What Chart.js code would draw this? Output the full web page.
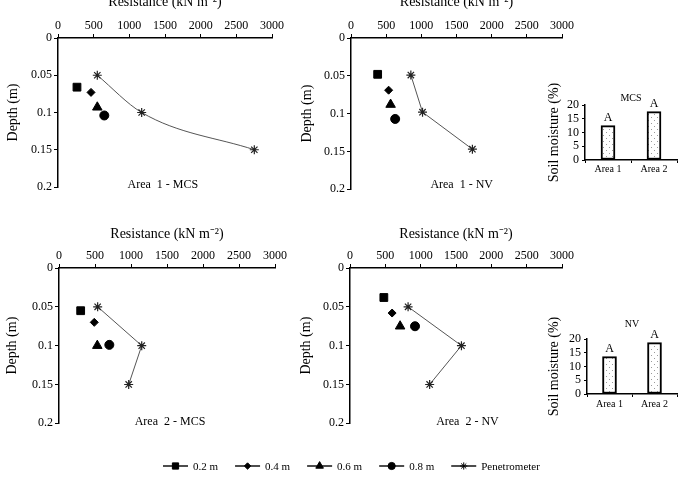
<!DOCTYPE html>
<html>
<head>
<meta charset="utf-8">
<script src="https://cdn.jsdelivr.net/npm/chart.js@4.4.1/dist/chart.umd.min.js"></script>
<style>
    html, body { margin: 0; padding: 0; background: #fff; overflow: hidden; }
    #fig { position: relative; width: 687px; height: 478px; overflow: hidden; }
    #fig canvas { position: absolute; }
</style>
</head>
<body>
<div id="fig">
    <canvas id="a1mcs" width="290" height="208" style="left:0;top:-8px"></canvas>
    <canvas id="a1nv" width="285" height="208" style="left:290px;top:-8px"></canvas>
    <canvas id="a2mcs" width="290" height="215" style="left:0;top:220px"></canvas>
    <canvas id="a2nv" width="285" height="215" style="left:290px;top:220px"></canvas>
    <canvas id="moistMcs" width="157" height="110" style="left:530px;top:80px"></canvas>
    <canvas id="moistNv" width="157" height="130" style="left:530px;top:300px"></canvas>
    <canvas id="legend" width="400" height="30" style="left:150px;top:450px"></canvas>
</div>
<script>
// tick labels and categories
const resistanceTicks = ['0', '500', '1000', '1500', '2000', '2500', '3000'];
const depthTicks = ['0', '0.05', '0.1', '0.15', '0.2'];
const moistureTicks = ['0', '5', '10', '15', '20'];
const seriesNames = ['0.2 m', '0.4 m', '0.6 m', '0.8 m', 'Penetrometer'];
const areaNames = ['Area 1', 'Area 2'];
const panelNames = ['Area  1 - MCS', 'Area  1 - NV', 'Area  2 - MCS', 'Area  2 - NV'];

// sensor readings (resistance kN m-2, depth m) for 0.2/0.4/0.6/0.8 m
const a1mcsRes = [266, 463, 551, 649];
const a1mcsDepth = [0.066, 0.073, 0.093, 0.104];
const a1nvRes = [379, 535, 563, 628];
const a1nvDepth = [0.048, 0.069, 0.088, 0.107];
const a2mcsRes = [301, 490, 532, 699];
const a2mcsDepth = [0.055, 0.070, 0.100, 0.099];
const a2nvRes = [479, 596, 709, 920];
const a2nvDepth = [0.038, 0.058, 0.075, 0.075];

// penetrometer profiles
const a1mcsPenRes = [551, 1173, 2752];
const a1mcsPenDepth = [0.05, 0.1, 0.15];
const a1nvPenRes = [851, 1017, 1726];
const a1nvPenDepth = [0.049, 0.098, 0.147];
const a2mcsPenRes = [537, 1149, 968];
const a2mcsPenDepth = [0.05, 0.1, 0.15];
const a2nvPenRes = [822, 1577, 1127];
const a2nvPenDepth = [0.05, 0.1, 0.15];

// soil moisture (%)
const moistureMcs = [12.5, 17.6];
const moistureNv = [13.6, 18.7];
const moistureLetters = ['A', 'A'];

const SERIF = "'Liberation Serif', 'Times New Roman', serif";
Chart.defaults.font.family = SERIF;
Chart.defaults.color = '#000';

const markers = [
    { style: 'rect', radius: 5.5 },
    { style: 'rectRot', radius: 4 },
    { style: 'triangle', radius: 5.5 },
    { style: 'circle', radius: 4.5 },
    { style: 'star', radius: 4.5 }
];

// pick the written label that matches a tick value
function tickLabel(list) {
    return (v) => list.find((t) => Math.abs(Number(t) - v) < 1e-9) ?? '';
}

// free text placed in data units
const panelText = {
    id: 'panelText',
    afterDraw(chart, args, opts) {
        const { ctx, scales } = chart;
        ctx.save();
        ctx.fillStyle = '#000';
        ctx.textAlign = 'center';
        ctx.textBaseline = 'middle';
        (opts.items || []).forEach((it) => {
            ctx.font = `${it.size}px ${SERIF}`;
            ctx.fillText(it.text, scales.x.getPixelForValue(it.x), scales.y.getPixelForValue(it.y));
        });
        ctx.restore();
    }
};

// letters over the bars
const barLetters = {
    id: 'barLetters',
    afterDatasetsDraw(chart, args, opts) {
        const { ctx } = chart;
        ctx.save();
        ctx.fillStyle = '#000';
        ctx.textAlign = 'center';
        ctx.textBaseline = 'bottom';
        ctx.font = `12px ${SERIF}`;
        chart.getDatasetMeta(0).data.forEach((bar, i) => {
            ctx.fillText(opts.letters[i], bar.x, bar.y - 2);
        });
        ctx.restore();
    }
};

function sensorSets(res, depth) {
    return res.map((r, i) => ({
        label: seriesNames[i],
        data: [{ x: r, y: depth[i] }],
        showLine: false,
        pointStyle: markers[i].style,
        pointRadius: markers[i].radius,
        backgroundColor: '#000',
        borderColor: '#000',
        borderWidth: 1
    }));
}

function penSet(res, depth, smooth) {
    return {
        label: seriesNames[4],
        data: res.map((r, i) => ({ x: r, y: depth[i] })),
        showLine: true,
        cubicInterpolationMode: smooth ? 'monotone' : 'default',
        borderColor: '#555',
        borderWidth: 1,
        pointStyle: 'star',
        pointRadius: 4.5,
        pointBorderColor: '#222',
        pointBorderWidth: 1.2,
        backgroundColor: '#222'
    };
}

function depthChart(id, o) {
    return new Chart(document.getElementById(id), {
        type: 'scatter',
        data: { datasets: [...sensorSets(o.res, o.depth), penSet(o.penRes, o.penDepth, o.smooth)] },
        options: {
            responsive: false,
            animation: false,
            events: [],
            layout: { padding: { right: o.padRight, bottom: o.padBottom } },
            plugins: {
                legend: { display: false },
                tooltip: { enabled: false },
                panelText: { items: [{ text: o.name, x: o.nameX, y: o.nameY, size: 12 }] }
            },
            scales: {
                x: {
                    type: 'linear',
                    position: 'top',
                    min: 0,
                    max: 3000,
                    ticks: { stepSize: 500, autoSkip: false, maxRotation: 0, padding: 1, font: { size: 12 }, callback: tickLabel(resistanceTicks) },
                    grid: { drawOnChartArea: false, color: '#000', tickLength: 4 },
                    border: { color: '#000', width: 1.5 },
                    title: { display: true, text: 'Resistance (kN m⁻²)', font: { size: 14 }, padding: { top: o.titleTop, bottom: 0 } },
                    afterFit(s) { s.height = o.axisH; }
                },
                y: {
                    type: 'linear',
                    position: 'left',
                    reverse: true,
                    min: 0,
                    max: 0.2,
                    ticks: { stepSize: 0.05, autoSkip: false, padding: 2, font: { size: 12 }, callback: tickLabel(depthTicks) },
                    grid: { drawOnChartArea: false, color: '#000', tickLength: 4 },
                    border: { color: '#000', width: 1.5 },
                    title: { display: true, text: 'Depth (m)', font: { size: 14 }, padding: { top: o.yTitlePad, bottom: 0 } },
                    afterFit(s) { s.width = o.axisW; }
                }
            }
        },
        plugins: [panelText]
    });
}

function dotPattern() {
    const c = document.createElement('canvas');
    c.width = 6;
    c.height = 6;
    const g = c.getContext('2d');
    g.fillStyle = '#fff';
    g.fillRect(0, 0, 6, 6);
    g.fillStyle = '#9a9a9a';
    g.fillRect(1, 1, 1, 1);
    g.fillRect(4, 4, 1, 1);
    return g.createPattern(c, 'repeat');
}

function moistureChart(id, values, o) {
    return new Chart(document.getElementById(id), {
        type: 'bar',
        data: {
            labels: areaNames,
            datasets: [{
                data: values,
                backgroundColor: dotPattern(),
                borderColor: '#000',
                borderWidth: 2,
                borderSkipped: false,
                barThickness: 14
            }]
        },
        options: {
            responsive: false,
            animation: false,
            events: [],
            layout: { padding: { top: o.padTop, right: 10 } },
            plugins: {
                legend: { display: false },
                tooltip: { enabled: false },
                barLetters: { letters: moistureLetters },
                panelText: { items: [{ text: o.title, x: 0.5, y: o.titleY, size: 10 }] }
            },
            scales: {
                x: {
                    ticks: { padding: o.xTickPad, maxRotation: 0, font: { size: 10 } },
                    grid: { drawOnChartArea: false, offset: true, color: '#000', tickLength: 3 },
                    border: { color: '#000', width: 1.5 },
                    afterFit(s) { s.height = o.axisH; }
                },
                y: {
                    min: 0,
                    max: 20,
                    ticks: { stepSize: 5, autoSkip: false, padding: 3, font: { size: 12 }, callback: tickLabel(moistureTicks) },
                    grid: { drawOnChartArea: false, color: '#000', tickLength: 3 },
                    border: { color: '#000', width: 1.5 },
                    title: { display: true, text: 'Soil moisture (%)', font: { size: 14 }, padding: { top: 16, bottom: 0 } },
                    afterFit(s) { s.width = o.axisW; }
                }
            }
        },
        plugins: [panelText, barLetters]
    });
}

// legend drawn as line + marker + label
const legendDraw = {
    id: 'legendDraw',
    afterDraw(chart) {
        const ctx = chart.ctx;
        const y = 16;
        let x = 13;
        ctx.save();
        ctx.font = `11px ${SERIF}`;
        ctx.textBaseline = 'middle';
        chart.data.datasets.forEach((ds) => {
            ctx.strokeStyle = '#000';
            ctx.lineWidth = 1.4;
            ctx.beginPath();
            ctx.moveTo(x, y);
            ctx.lineTo(x + 25, y);
            ctx.stroke();
            ctx.fillStyle = '#000';
            ctx.lineWidth = 1;
            Chart.helpers.drawPoint(ctx, { pointStyle: ds.pointStyle, radius: ds.pointRadius * 0.8, rotation: 0, borderWidth: 1 }, x + 12.5, y);
            ctx.fillText(ds.label, x + 30, y + 1);
            x += 30 + ctx.measureText(ds.label).width + 17;
        });
        ctx.restore();
    }
};

depthChart('a1mcs', {
    res: a1mcsRes, depth: a1mcsDepth, penRes: a1mcsPenRes, penDepth: a1mcsPenDepth, smooth: true,
    name: panelNames[0], nameX: 1470, nameY: 0.197,
    axisW: 58, axisH: 46, padRight: 18, padBottom: 13, titleTop: 2, yTitlePad: 4.6
});
depthChart('a1nv', {
    res: a1nvRes, depth: a1nvDepth, penRes: a1nvPenRes, penDepth: a1nvPenDepth, smooth: false,
    name: panelNames[1], nameX: 1574, nameY: 0.194,
    axisW: 61, axisH: 46, padRight: 13, padBottom: 10.7, titleTop: 2, yTitlePad: 8.6
});
depthChart('a2mcs', {
    res: a2mcsRes, depth: a2mcsDepth, penRes: a2mcsPenRes, penDepth: a2mcsPenDepth, smooth: false,
    name: panelNames[2], nameX: 1542, nameY: 0.198,
    axisW: 59, axisH: 48, padRight: 15, padBottom: 11.7, titleTop: 5.6, yTitlePad: 3.6
});
depthChart('a2nv', {
    res: a2nvRes, depth: a2nvDepth, penRes: a2nvPenRes, penDepth: a2nvPenDepth, smooth: false,
    name: panelNames[3], nameX: 1662, nameY: 0.198,
    axisW: 60, axisH: 48, padRight: 12, padBottom: 11.7, titleTop: 5.6, yTitlePad: 8.3
});

moistureChart('moistMcs', moistureMcs, { title: 'MCS', titleY: 22.5, padTop: 25, axisW: 55, axisH: 30, xTickPad: 0 });
moistureChart('moistNv', moistureNv, { title: 'NV', titleY: 25.3, padTop: 39, axisW: 57, axisH: 36, xTickPad: 1 });

new Chart(document.getElementById('legend'), {
    type: 'scatter',
    data: {
        datasets: seriesNames.map((name, i) => ({
            label: name,
            data: [],
            pointStyle: markers[i].style,
            pointRadius: markers[i].radius
        }))
    },
    options: {
        responsive: false,
        animation: false,
        events: [],
        plugins: { legend: { display: false }, tooltip: { enabled: false } },
        scales: { x: { display: false }, y: { display: false } }
    },
    plugins: [legendDraw]
});
</script>
</body>
</html>
